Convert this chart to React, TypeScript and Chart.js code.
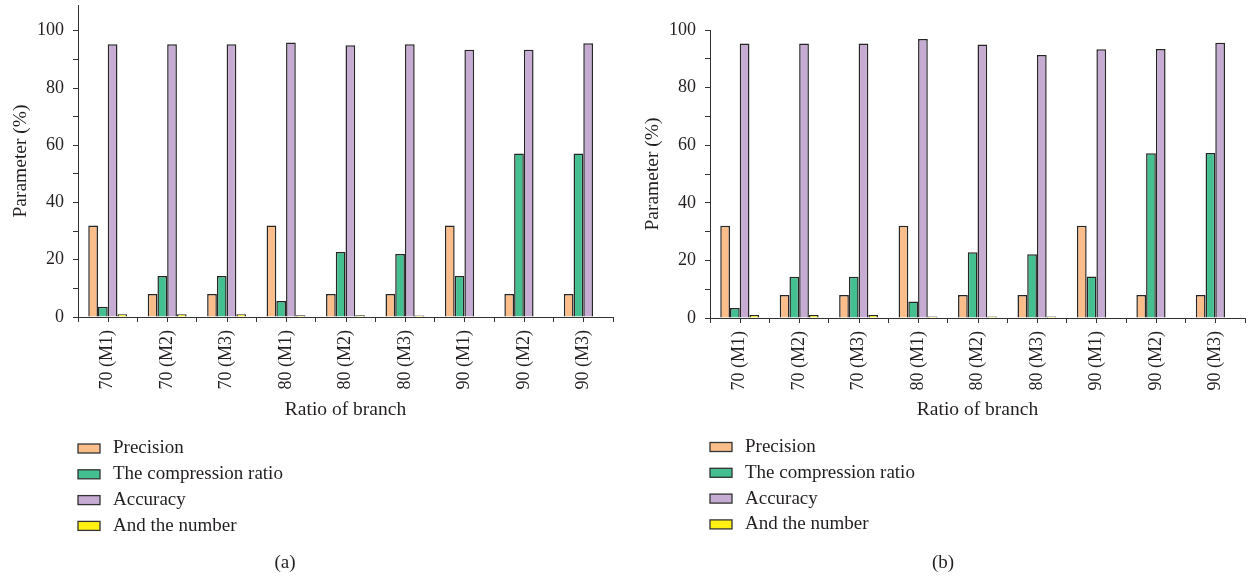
import React, { useEffect, useRef } from "react";
import { Chart, registerables } from "chart.js";

Chart.register(...registerables);

const categories = ["70 (M1)", "70 (M2)", "70 (M3)", "80 (M1)", "80 (M2)", "80 (M3)", "90 (M1)", "90 (M2)", "90 (M3)"];
const seriesNames = ["Precision", "The compression ratio", "Accuracy", "And the number"];
const seriesColors = ["#FBBE8B", "#43BF90", "#C6ABD3", "#FFF212"];

const precisionA = [32, 8, 8, 32, 8, 8, 32, 8, 8];
const compressionA = [3.6, 14.3, 14.3, 5.6, 22.7, 22.0, 14.3, 57.1, 57.1];
const accuracyA = [95.3, 95.3, 95.3, 95.9, 94.9, 95.3, 93.4, 93.4, 95.6];
const numberA = [1.0, 1.0, 1.0, 0.6, 0.6, 0.5, 0.2, 0.2, 0.2];

const precisionB = [32, 8, 8, 32, 8, 8, 32, 8, 8];
const compressionB = [3.5, 14.3, 14.3, 5.7, 22.8, 22.1, 14.4, 57.2, 57.3];
const accuracyB = [95.3, 95.3, 95.3, 96.9, 95.0, 91.3, 93.3, 93.4, 95.6];
const numberB = [1.0, 1.0, 1.0, 0.5, 0.5, 0.5, 0.2, 0.2, 0.2];

const yTickValues = [0, 10, 20, 30, 40, 50, 60, 70, 80, 90, 100];

const FONT = "'Liberation Serif', 'DejaVu Serif', serif";
const TEXT = "#231F20";
const AXIS = "#333333";

type PanelProps = {
  series: number[][];
  yMax: number;
  padTop: number;
  xHeight: number;
  width: number;
  caption: string;
  captionX: number;
  legendY: number;
};

function Panel({ series, yMax, padTop, xHeight, width, caption, captionX, legendY }: PanelProps) {
  const ref = useRef<HTMLCanvasElement | null>(null);
  useEffect(() => {
    if (!ref.current) return;
    const extras = {
      id: "extras",
      afterDraw(chart: any) {
        const ctx = chart.ctx;
        const xs = chart.scales.x;
        const bottom = chart.chartArea.bottom;
        ctx.save();
        ctx.strokeStyle = AXIS;
        ctx.lineWidth = 1;
        for (let i = 0; i < categories.length; i++) {
          const px = Math.round(xs.getPixelForValue(i)) + 0.5;
          ctx.beginPath();
          ctx.moveTo(px, bottom);
          ctx.lineTo(px, bottom + 5);
          ctx.stroke();
        }
        ctx.font = `19px ${FONT}`;
        ctx.textBaseline = "middle";
        ctx.textAlign = "left";
        for (let i = 0; i < seriesNames.length; i++) {
          const cy = legendY + i * 25.8;
          ctx.fillStyle = seriesColors[i];
          ctx.fillRect(78, cy - 4.5, 22, 9);
          ctx.strokeStyle = AXIS;
          ctx.lineWidth = 1.3;
          ctx.strokeRect(78, cy - 4.5, 22, 9);
          ctx.fillStyle = TEXT;
          ctx.fillText(seriesNames[i], 113, cy);
        }
        ctx.textAlign = "center";
        ctx.fillText(caption, captionX, 563);
        ctx.restore();
      },
    };
    const chart = new Chart(ref.current, {
      type: "bar",
      data: {
        labels: categories,
        datasets: series.map((d, i) => ({
          label: seriesNames[i],
          data: d,
          backgroundColor: seriesColors[i],
          borderColor: "#262626",
          borderWidth: 1.5,
          categoryPercentage: 0.655,
          barPercentage: 1.0,
        })),
      },
      options: {
        responsive: false,
        animation: false,
        layout: { padding: { left: 0, right: width - 613, top: padTop, bottom: 160 } },
        plugins: { legend: { display: false }, tooltip: { enabled: false } },
        scales: {
          x: {
            offset: true,
            afterFit: (s: any) => {
              s.height = xHeight;
              s.paddingLeft = 0;
              s.paddingRight = 0;
            },
            grid: {
              offset: true,
              drawOnChartArea: false,
              drawTicks: true,
              tickLength: 5,
              color: AXIS,
            },
            border: { display: true, color: AXIS, width: 1 },
            ticks: {
              minRotation: 90,
              maxRotation: 90,
              padding: 8,
              color: TEXT,
              font: { family: FONT, size: 18 },
            },
            title: {
              display: true,
              text: "Ratio of branch",
              color: TEXT,
              font: { family: FONT, size: 19.5 },
              padding: { top: 0, bottom: -4 },
            },
          },
          y: {
            min: 0,
            max: yMax,
            afterFit: (s: any) => {
              s.width = 78;
              s.paddingTop = 0;
              s.paddingBottom = 0;
            },
            afterBuildTicks: (s: any) => {
              s.ticks = yTickValues.map((v) => ({ value: v }));
            },
            grid: {
              drawOnChartArea: false,
              drawTicks: true,
              tickLength: 5,
              color: AXIS,
            },
            border: { display: true, color: AXIS, width: 1 },
            ticks: {
              padding: 9,
              color: TEXT,
              font: { family: FONT, size: 18 },
              callback: (v: any) => (Number(v) % 20 === 0 ? String(v) : ""),
            },
            title: {
              display: true,
              text: "Parameter (%)",
              color: TEXT,
              font: { family: FONT, size: 19.5 },
              padding: { top: 9, bottom: 0 },
            },
          },
        },
      },
      plugins: [extras],
    });
    return () => chart.destroy();
  }, []);
  return <canvas ref={ref} width={width} height={578} style={{ display: "block", width, height: 578 }} />;
}

export default function App() {
  return (
    <div style={{ position: "absolute", left: 0, top: 0, width: 1250, height: 578, background: "#fff" }}>
      <div style={{ position: "absolute", left: 0, top: 0 }}>
        <Panel
          series={[precisionA, compressionA, accuracyA, numberA]}
          yMax={109}
          padTop={5}
          xHeight={101}
          width={625}
          caption="(a)"
          captionX={285}
          legendY={448.5}
        />
      </div>
      <div style={{ position: "absolute", left: 632, top: 0 }}>
        <Panel
          series={[precisionB, compressionB, accuracyB, numberB]}
          yMax={100}
          padTop={30}
          xHeight={100}
          width={618}
          caption="(b)"
          captionX={311}
          legendY={447}
        />
      </div>
    </div>
  );
}
